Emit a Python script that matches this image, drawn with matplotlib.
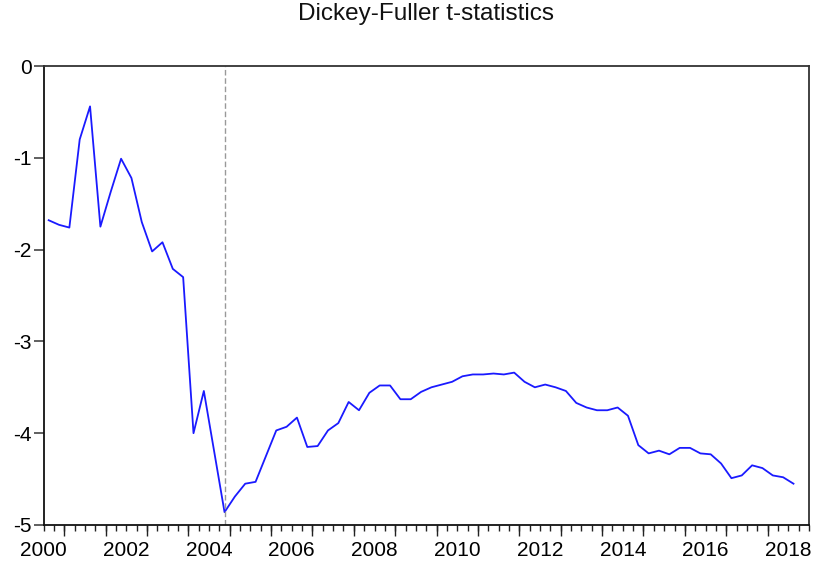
import numpy as np
import matplotlib
matplotlib.use('Agg')
import matplotlib.pyplot as plt

plt.rcParams['font.family'] = ['Liberation Sans', 'DejaVu Sans']

# quarterly Dickey-Fuller t-statistics, 2000Q1 .. 2018Q1
tstat = [-1.68, -1.73, -1.76, -0.80, -0.44, -1.75, -1.37, -1.01,
         -1.22, -1.70, -2.02, -1.92, -2.21, -2.30, -4.00, -3.54,
         -4.20, -4.86, -4.69, -4.55, -4.53, -4.25, -3.97, -3.93,
         -3.83, -4.15, -4.14, -3.97, -3.89, -3.66, -3.75, -3.56,
         -3.48, -3.48, -3.63, -3.63, -3.55, -3.50, -3.47, -3.44,
         -3.38, -3.36, -3.36, -3.35, -3.36, -3.34, -3.44, -3.50,
         -3.47, -3.50, -3.54, -3.67, -3.72, -3.75, -3.75, -3.72,
         -3.81, -4.13, -4.22, -4.19, -4.23, -4.16, -4.16, -4.22,
         -4.23, -4.33, -4.49, -4.46, -4.35, -4.38, -4.46, -4.48,
         -4.55]
start_year = 2000
break_obs = 17  # 2004Q2, minimum of the statistic
year_labels = ['2000', '2002', '2004', '2006', '2008', '2010', '2012',
               '2014', '2016', '2018']
y_ticks = [0, -1, -2, -3, -4, -5]
y_labels = ['0', '-1', '-2', '-3', '-4', '-5']

n = len(tstat)
# each quarter drawn at the middle of its slot
x = start_year + (np.arange(n) + 0.5) / 4.0
x_end = start_year + (n + 1) / 4.0

fig = plt.figure(figsize=(8.26, 5.68), dpi=100)
ax = fig.add_axes([43.5 / 826, 1 - 525 / 568, (809 - 43.5) / 826, (525 - 66) / 568])

ax.plot(x, tstat, color='#1a1aff', lw=1.3)
ax.axvline(x[break_obs], color='#999999', lw=1.0, ls=(0, (4, 2)))

ax.set_xlim(start_year, x_end)
ax.set_ylim(-5, 0)

label_pos = [int(s) for s in year_labels]
ax.set_xticks(label_pos)
ax.set_xticklabels(year_labels)
ax.set_xticks(np.arange(start_year, x_end + 0.01, 0.25), minor=True)
ax.tick_params(axis='x', which='both', direction='out', length=4.3,
               width=1.0, color='#222222', labelsize=15, pad=7.5)

# longer ticks at mid-year
sec = ax.secondary_xaxis('bottom')
sec.set_xticks(np.arange(start_year + 0.5, x_end, 1.0))
sec.set_xticklabels([])
sec.tick_params(direction='out', length=8, width=1.0, color='#222222')
sec.spines['bottom'].set_visible(False)

ax.set_yticks(y_ticks)
ax.set_yticklabels(y_labels)
ax.tick_params(axis='y', direction='out', length=7, width=1.2,
               color='#444444', labelsize=15, pad=1.5)

for side in ['left', 'bottom']:
    ax.spines[side].set_color('#111111')
    ax.spines[side].set_linewidth(1.3)
for side in ['top', 'right']:
    ax.spines[side].set_color('#333333')
    ax.spines[side].set_linewidth(1.3)

ax.set_title('Dickey-Fuller t-statistics', fontsize=17.5, pad=33, color='#111111')

fig.savefig('out.png', dpi=100)
